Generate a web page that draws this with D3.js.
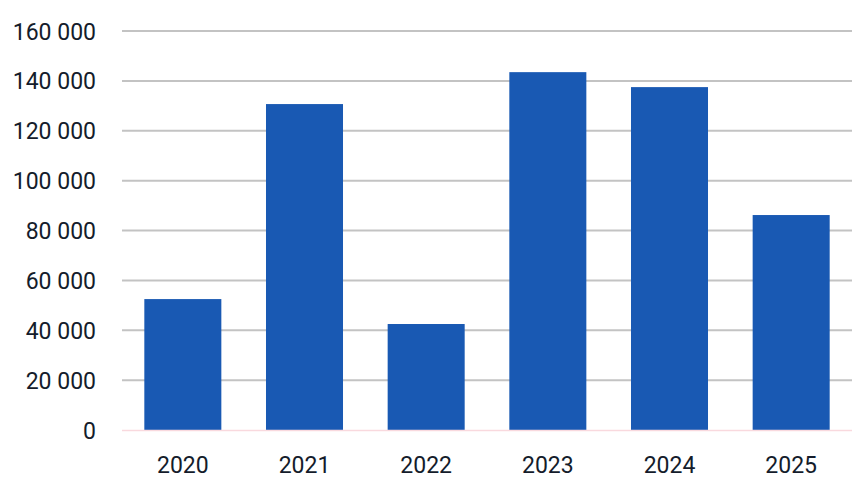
<!DOCTYPE html>
<html>
<head>
<meta charset="utf-8">
<script src="https://cdn.jsdelivr.net/npm/d3@7"></script>
<style>
  html, body { margin: 0; padding: 0; background: #ffffff; }
  svg { display: block; }
</style>
</head>
<body>
<svg id="chart" width="865" height="496"></svg>
<script>
const categories = ["2020", "2021", "2022", "2023", "2024", "2025"];
const values = [52500, 130700, 42500, 143500, 137500, 86200];
const yTicks = [0, 20000, 40000, 60000, 80000, 100000, 120000, 140000, 160000];

(function () {
const svg = d3.select("#chart");
const mLeft = 122, mRight = 852, mTop = 31, mBottom = 430;

const x = d3.scaleBand().domain(categories).range([mLeft, mRight])
  .paddingInner(0.367).paddingOuter(0.1835);
const y = d3.scaleLinear().domain([0, 160000]).range([mBottom, mTop]);

const fmt = v => d3.format(",")(v).replace(/,/g, " ");

// gridlines
svg.append("g").selectAll("line")
  .data(yTicks.filter(t => t > 0))
  .join("line")
  .attr("x1", mLeft).attr("x2", mRight)
  .attr("y1", d => y(d)).attr("y2", d => y(d))
  .attr("stroke", "#c3c3c3").attr("stroke-width", 2);

// y-axis labels
const yAxis = d3.axisLeft(y).tickValues(yTicks).tickFormat(fmt).tickSize(0).tickPadding(0);
const gy = svg.append("g").attr("transform", "translate(96,0)").call(yAxis);
gy.select(".domain").remove();
gy.selectAll("text")
  .attr("font-family", "Roboto, sans-serif")
  .attr("font-size", 23)
  .attr("fill", "#141c2b")
  .attr("dy", "0.35em");

// bars
svg.append("g").selectAll("rect")
  .data(categories.map((c, i) => ({ c, v: values[i] })))
  .join("rect")
  .attr("x", d => x(d.c))
  .attr("width", x.bandwidth())
  .attr("y", d => y(d.v))
  .attr("height", d => y(0) - y(d.v))
  .attr("fill", "#1959b3");

// baseline
svg.append("line")
  .attr("x1", mLeft).attr("x2", mRight)
  .attr("y1", y(0) + 0.5).attr("y2", y(0) + 0.5)
  .attr("stroke", "#f9d9de").attr("stroke-width", 1.5);

// x-axis labels
const xAxis = d3.axisBottom(x).tickSize(0).tickPadding(0);
const gx = svg.append("g").attr("transform", "translate(0,473)").call(xAxis);
gx.select(".domain").remove();
gx.selectAll("text")
  .attr("font-family", "Roboto, sans-serif")
  .attr("font-size", 23)
  .attr("fill", "#141c2b")
  .attr("dy", 0);
})();
</script>
</body>
</html>
